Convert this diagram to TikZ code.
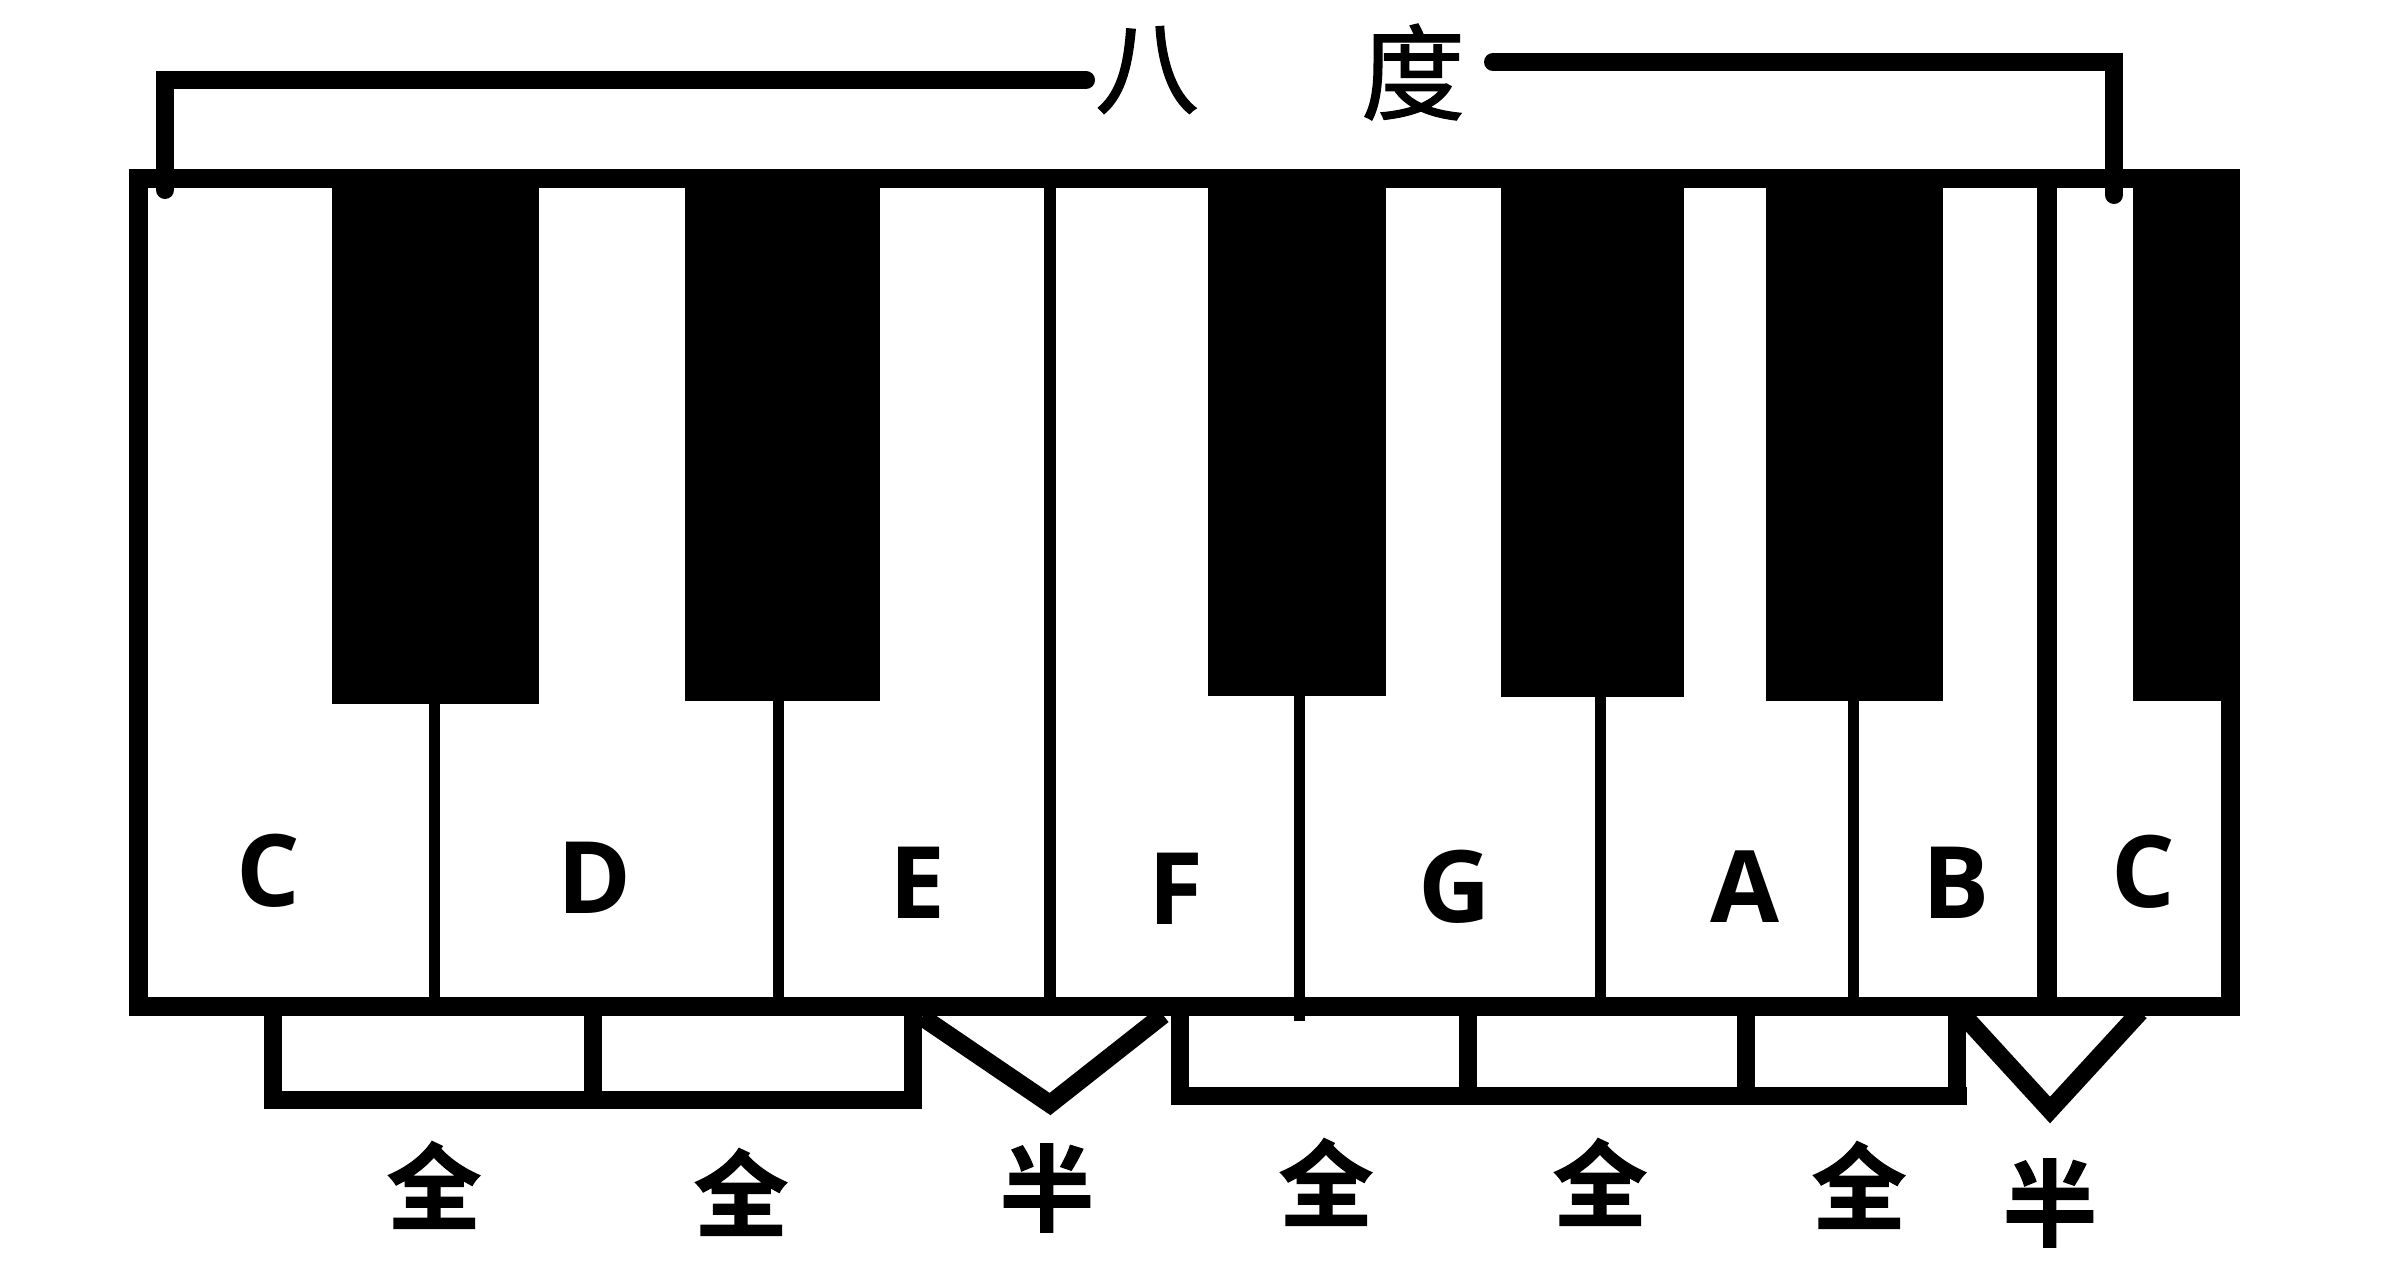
\documentclass[tikz,border=0pt]{standalone}
\usepackage{fontspec}
\setmainfont{Open Sans}
\newfontfamily\cjk{Noto Sans CJK SC}
\newfontfamily\cjkt[FakeBold=1.2]{Noto Sans CJK SC}
\newfontfamily\cjks[FakeBold=1.5]{Noto Sans CJK SC Bold}
\begin{document}
\begin{tikzpicture}[x=0.5pt,y=-0.5pt,
  blackkey/.style={fill=black},
  divider/.style={line width=5.5pt},
  frame/.style={line width=9.5pt,line join=miter},
  bracket/.style={line width=9pt,line cap=round,line join=miter},
  lowbracket/.style={line width=9pt,line cap=butt,line join=miter},
  notelabel/.style={inner sep=0pt,font=\fontsize{50}{60}\selectfont\bfseries},
  steplabel/.style={inner sep=0pt,font=\fontsize{47}{56}\selectfont\cjks},
  titlelabel/.style={inner sep=0pt,font=\fontsize{52}{62}\selectfont\cjkt}]
\useasboundingbox (0,0) rectangle (2387,1280);
\fill[white] (0,0) rectangle (2387,1280);
% black keys
\fill[blackkey] (332,178) rectangle (539,704);
\fill[blackkey] (685,178) rectangle (880,701);
\fill[blackkey] (1208,178) rectangle (1386,696);
\fill[blackkey] (1501,178) rectangle (1684,697);
\fill[blackkey] (1766,178) rectangle (1943,701);
\fill[blackkey] (2133,178) rectangle (2239,701);
% dividers
\draw[divider] (434,704) -- (434,1006);
\draw[divider] (778,701) -- (778,1006);
\draw[line width=6pt] (1050,178) -- (1050,1006);
\draw[divider] (1299,696) -- (1299,1021);
\draw[divider] (1600,697) -- (1600,1006);
\draw[divider] (1853,701) -- (1853,1006);
\draw[line width=10pt] (2047,178) -- (2047,1006);
% outer frame
\draw[frame] (138.5,178.5) rectangle (2230,1006.5);
% top bracket
\node[titlelabel] (ba) at (1147,70) {八};
\node[titlelabel] (du) at (1413,72) {度};
\coordinate (tl) at (165,190);
\coordinate (tlc) at (165,80);
\coordinate (tle) at (1086,80);
\coordinate (trs) at (1493,62);
\coordinate (trc) at (2114,62);
\coordinate (tr) at (2114,195);
\draw[bracket] (tl) -- (tlc) -- (tle);
\draw[bracket] (trs) -- (trc) -- (tr);
% note labels
\node[notelabel] (c1) at (268,871) {C};
\node[notelabel] (d) at (595,878) {D};
\node[notelabel] (e) at (917,883) {E};
\node[notelabel] (f) at (1176,889) {F};
\node[notelabel] (g) at (1455,887) {G};
\node[notelabel] (a) at (1745,887) {A};
\node[notelabel] (b) at (1956,883) {B};
\node[notelabel] (c2) at (2143,872) {C};
% bottom brackets
\draw[lowbracket] (273,1012) -- (273,1100) -- (913,1100) -- (913,1012);
\draw[lowbracket] (593,1012) -- (593,1100);
\draw[lowbracket] (922,1017) -- (1050,1104) -- (1163,1015);
\draw[lowbracket] (1180,1012) -- (1180,1096) -- (1967,1096);
\draw[lowbracket] (1468,1012) -- (1468,1096);
\draw[lowbracket] (1746,1012) -- (1746,1096);
\draw[lowbracket] (1957,1012) -- (1957,1096);
\draw[lowbracket] (1963,1015) -- (2050,1110) -- (2140,1012);
% step labels
\node[steplabel] (s1) at (434,1185) {全};
\node[steplabel] (s2) at (741,1192) {全};
\node[steplabel] (s3) at (1047,1188) {半};
\node[steplabel] (s4) at (1326,1182) {全};
\node[steplabel] (s5) at (1600,1182) {全};
\node[steplabel] (s6) at (1859,1185) {全};
\node[steplabel] (s7) at (2050,1203) {半};
\end{tikzpicture}
\end{document}
